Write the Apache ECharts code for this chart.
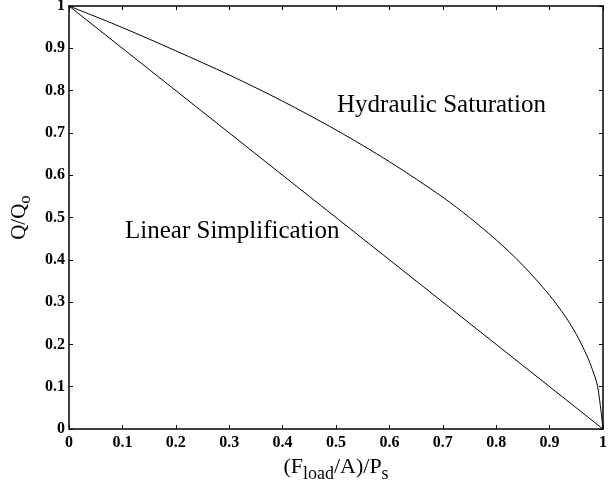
<!DOCTYPE html>
<html>
<head>
<meta charset="utf-8">
<script src="https://cdn.jsdelivr.net/npm/echarts@6/dist/echarts.min.js"></script>
<style>
html, body { margin: 0; padding: 0; background: #fff; }
#chart { width: 608px; height: 484px; }
</style>
</head>
<body>
<div id="chart"></div>
<script>
// values
var linearX = [0, 1];
var linearY = [1, 0];
var hydX = [0, 0.1, 0.2, 0.3, 0.4, 0.5, 0.6, 0.7, 0.75, 0.8, 0.85, 0.9, 0.93, 0.95, 0.97, 0.98, 0.99, 1];
var hydY = [1, 0.949, 0.894, 0.837, 0.775, 0.707, 0.632, 0.548, 0.5, 0.447, 0.387, 0.316, 0.265, 0.224, 0.173, 0.141, 0.1, 0];
var ticks = [0, 0.1, 0.2, 0.3, 0.4, 0.5, 0.6, 0.7, 0.8, 0.9, 1];

var font = 'Liberation Serif';
var myChart = echarts.init(document.getElementById('chart'));

function pairs(xs, ys) {
  var out = [];
  xs.forEach(function (x, i) { out.push([x, ys[i]]); });
  return out;
}

function fmt(v) {
  var r = Math.round(v * 10) / 10;
  return ticks.indexOf(r) >= 0 ? String(r) : '';
}

var baseAxis = {
  type: 'value', min: 0, max: 1, interval: 0.1,
  axisLine: { show: true, onZero: false, lineStyle: { color: '#000', width: 1.5 } },
  axisTick: { show: true, inside: true, length: 4, lineStyle: { color: '#000' } },
  splitLine: { show: false }
};

var tickLabel = { color: '#000', fontFamily: font, fontSize: 16, fontWeight: 'bold', formatter: fmt };

var option = {
  animation: false,
  backgroundColor: '#fff',
  grid: { left: 69, right: 5, top: 6, bottom: 55, containLabel: false, outerBoundsMode: 'none' },
  xAxis: [
    Object.assign({}, baseAxis, {
      position: 'bottom',
      axisLabel: Object.assign({ margin: 6 }, tickLabel),
      name: '{n|(F}{s|load}{n|/A)/P}{s|s}',
      nameLocation: 'middle', nameGap: 20,
      nameTextStyle: {
        rich: {
          n: { fontFamily: font, fontSize: 22, color: '#000' },
          s: { fontFamily: font, fontSize: 18, color: '#000', verticalAlign: 'bottom', padding: [14, 0, 0, 0] }
        }
      }
    }),
    Object.assign({}, baseAxis, { position: 'top', axisLabel: { show: false } })
  ],
  yAxis: [
    Object.assign({}, baseAxis, {
      position: 'left',
      axisLabel: Object.assign({ margin: 4 }, tickLabel),
      name: '{n|Q/Q}{s|o}',
      nameLocation: 'middle', nameGap: 32, nameRotate: 90,
      nameTextStyle: {
        rich: {
          n: { fontFamily: font, fontSize: 21, color: '#000' },
          s: { fontFamily: font, fontSize: 17, color: '#000', verticalAlign: 'bottom', padding: [12, 0, 0, 0] }
        }
      }
    }),
    Object.assign({}, baseAxis, { position: 'right', axisLabel: { show: false } })
  ],
  series: [
    {
      name: 'Linear Simplification', type: 'line', data: pairs(linearX, linearY),
      showSymbol: false, lineStyle: { color: '#000', width: 1 }
    },
    {
      name: 'Hydraulic Saturation', type: 'line', data: pairs(hydX, hydY), smooth: 0.3,
      showSymbol: false, lineStyle: { color: '#000', width: 1 }
    }
  ],
  graphic: [
    { type: 'text', x: 337, y: 105, style: { text: 'Hydraulic Saturation', font: '25px "Liberation Serif"', fill: '#000', verticalAlign: 'middle' } },
    { type: 'text', x: 125, y: 231, style: { text: 'Linear Simplification', font: '25px "Liberation Serif"', fill: '#000', verticalAlign: 'middle' } }
  ]
};

option && myChart.setOption(option);
</script>
</body>
</html>
